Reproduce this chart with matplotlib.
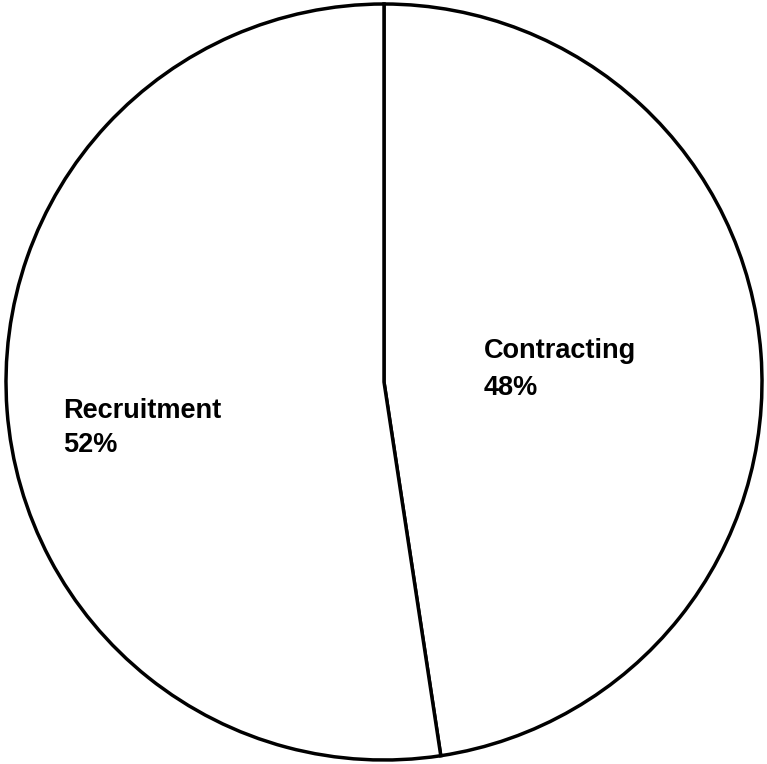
import matplotlib.pyplot as plt

labels = ["Contracting", "Recruitment"]
shares = [47.6, 52.4]
pct_labels = ["48%", "52%"]

plt.rcParams['font.family'] = ['Liberation Sans', 'DejaVu Sans']

fig = plt.figure(figsize=(7.67, 7.64), dpi=100)
ax = fig.add_axes([0, 0, 1, 1])

ax.pie(shares, startangle=90, counterclock=False, center=(384, 382), radius=378,
       colors=['white', 'white'],
       wedgeprops=dict(edgecolor='black', linewidth=2.5))

ax.set_xlim(0, 767)
ax.set_ylim(0, 764)
ax.set_aspect('equal')
ax.axis('off')

# label baselines (pixel coords, y measured from bottom)
label_pos = [(484, 406, 369), (63, 346, 312)]
for name, pct, (x, y1, y2) in zip(labels, pct_labels, label_pos):
    ax.text(x, y1, name, fontsize=19.5, fontweight='bold', ha='left', va='baseline')
    ax.text(x, y2, pct, fontsize=19.5, fontweight='bold', ha='left', va='baseline')

fig.savefig("out.png", dpi=100)
